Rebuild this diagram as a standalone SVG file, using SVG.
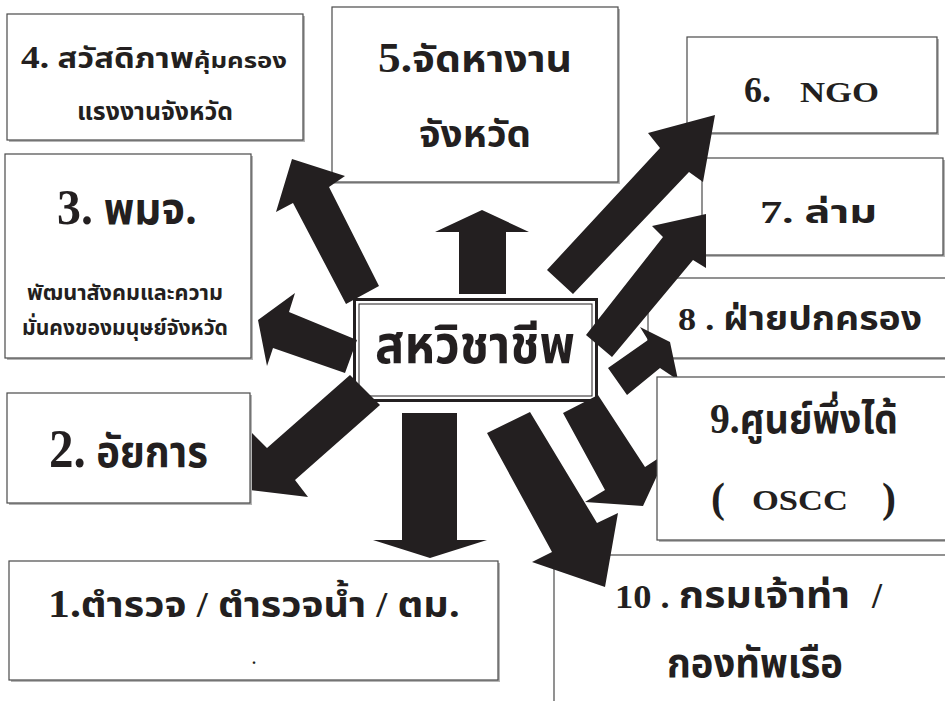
<svg xmlns="http://www.w3.org/2000/svg" width="945" height="701" viewBox="0 0 945 701">
<style>
.bg{fill:#ffffff}
.box{fill:#ffffff;stroke:#4a4a4a;stroke-width:1.2}
.sh{fill:#b5b5b5}
.arr{fill:#231f20}
.th{font-family:"Noto Sans Thai","Noto Serif Thai","Noto Sans","DejaVu Sans",sans-serif;font-weight:bold;fill:#231f20}
.lat{font-family:"Liberation Serif","Times New Roman",serif;font-weight:bold;fill:#231f20}
</style>
<rect class="bg" x="0" y="0" width="945" height="701"/>

<g id="node4">
<rect class="sh" x="9" y="16" width="296" height="126"/>
<rect class="box" x="7" y="14" width="296" height="126"/>
<text x="21" y="68" textLength="266" lengthAdjust="spacingAndGlyphs"><tspan class="lat" font-size="32">4.</tspan><tspan class="th" font-size="28"> สวัสดิภาพ</tspan><tspan class="th" font-size="22">คุ้มครอง</tspan></text>
<text class="th" x="77" y="120" font-size="25" textLength="156" lengthAdjust="spacingAndGlyphs">แรงงานจังหวัด</text>
</g>

<g id="node5">
<rect class="sh" x="334" y="9" width="286" height="175"/>
<rect class="box" x="332" y="7" width="286" height="175"/>
<text x="378" y="72" textLength="194" lengthAdjust="spacingAndGlyphs"><tspan class="lat" font-size="42">5.</tspan><tspan class="th" font-size="38">จัดหางาน</tspan></text>
<text class="th" x="419" y="147" font-size="38" textLength="112" lengthAdjust="spacingAndGlyphs">จังหวัด</text>
</g>

<g id="node6">
<rect class="sh" x="689" y="39" width="250" height="96"/>
<rect class="box" x="687" y="37" width="250" height="96"/>
<text class="lat" x="744" y="102" font-size="36">6.</text>
<text class="lat" x="800" y="102" font-size="29" textLength="79" lengthAdjust="spacingAndGlyphs">NGO</text>
</g>

<g id="node7">
<rect class="sh" x="704" y="160" width="241" height="97"/>
<rect class="box" x="702" y="158" width="241" height="97"/>
<text x="760" y="223" textLength="117" lengthAdjust="spacingAndGlyphs"><tspan class="lat" font-size="32">7.</tspan><tspan class="th" font-size="31"> ล่าม</tspan></text>
</g>

<g id="node3">
<rect class="sh" x="7" y="156" width="246" height="204"/>
<rect class="box" x="5" y="154" width="246" height="204"/>
<text x="57" y="224" textLength="140" lengthAdjust="spacingAndGlyphs"><tspan class="lat" font-size="50">3.</tspan><tspan class="th" font-size="44"> พมจ.</tspan></text>
<text class="th" x="27" y="300" font-size="22" textLength="196" lengthAdjust="spacingAndGlyphs">พัฒนาสังคมและความ</text>
<text class="th" x="22" y="335" font-size="22" textLength="206" lengthAdjust="spacingAndGlyphs">มั่นคงของมนุษย์จังหวัด</text>
</g>

<g id="node1">
<rect class="sh" x="11" y="563" width="489" height="119"/>
<rect class="box" x="9" y="561" width="489" height="119"/>
<text x="48" y="617" textLength="412" lengthAdjust="spacingAndGlyphs"><tspan class="lat" font-size="40">1.</tspan><tspan class="th" font-size="36">ตำรวจ </tspan><tspan class="lat" font-size="36">/</tspan><tspan class="th" font-size="36"> ตำรวจน้ำ </tspan><tspan class="lat" font-size="36">/</tspan><tspan class="th" font-size="36"> ตม.</tspan></text>
<text class="lat" x="252" y="664" font-size="16">.</text>
</g>

<g id="node8">
<rect class="sh" x="650" y="280" width="295" height="80"/>
<rect class="box" x="648" y="278" width="300" height="80"/>
<text x="678" y="330" textLength="244" lengthAdjust="spacingAndGlyphs"><tspan class="lat" font-size="32">8 . </tspan><tspan class="th" font-size="33">ฝ่ายปกครอง</tspan></text>
</g>

<g id="node10">
<rect class="box" x="554" y="555" width="400" height="160"/>
<text x="615" y="608" textLength="235" lengthAdjust="spacingAndGlyphs"><tspan class="lat" font-size="34">10 . </tspan><tspan class="th" font-size="38">กรมเจ้าท่า</tspan></text>
<text class="lat" x="872" y="608" font-size="36">/</text>
<text class="th" x="667" y="677" font-size="40" textLength="176" lengthAdjust="spacingAndGlyphs">กองทัพเรือ</text>
</g>

<g id="center">
<rect x="354.5" y="299.5" width="242" height="101" fill="#ffffff" stroke="#231f20" stroke-width="3"/>
<rect x="359" y="304" width="233" height="92" fill="none" stroke="#231f20" stroke-width="1"/>
<text class="th" x="375" y="363" font-size="54" textLength="200" lengthAdjust="spacingAndGlyphs">สหวิชาชีพ</text>
</g>

<g id="connectors">
<polygon class="arr" points="459,294 459,232 435,232 482,210 529,232 506,232 506,294"/>
<polygon class="arr" points="402,413 457,413 457,540 487,540 430,558 373,540 402,540"/>
<polygon class="arr" points="346,304 293,203 276,212 292,159 345,176 329,187 379,286"/>
<polygon class="arr" points="357,340 289,312 295,293 258,320 267,366 273,348 345,373"/>
<polygon class="arr" points="350,375 267,448 252,433 232,488 308,497 295,480 380,405"/>
<polygon class="arr" points="547,270 660,148 648,133 715,115 703,182 689,172 573,294"/>
<polygon class="arr" points="586,335 663,237 652,226 706,214 706,268 693,260 612,357"/>
<polygon class="arr" points="608,368 648,340 640,327 670,342 678,380 660,368 627,395"/>
<polygon class="arr" points="563,413 605,490 585,502 643,506 668,452 645,467 598,395"/>
<polygon class="arr" points="487,433 552,552 532,562 605,587 618,513 597,523 530,412"/>
</g>

<g id="node2">
<rect class="sh" x="9" y="395" width="243" height="110"/>
<rect class="box" x="7" y="393" width="243" height="110"/>
<text x="49" y="467" textLength="159" lengthAdjust="spacingAndGlyphs"><tspan class="lat" font-size="54">2.</tspan><tspan class="th" font-size="44"> อัยการ</tspan></text>
</g>

<g id="node9">
<rect class="sh" x="659" y="379" width="290" height="163"/>
<rect class="box" x="657" y="377" width="290" height="163"/>
<text x="710" y="433" textLength="188" lengthAdjust="spacingAndGlyphs"><tspan class="lat" font-size="42">9.</tspan><tspan class="th" font-size="40">ศูนย์พึ่งได้</tspan></text>
<text class="lat" x="711" y="512" font-size="42">(</text>
<text class="lat" x="752" y="510" font-size="30" textLength="96" lengthAdjust="spacingAndGlyphs">OSCC</text>
<text class="lat" x="882" y="512" font-size="42">)</text>
</g>
</svg>
